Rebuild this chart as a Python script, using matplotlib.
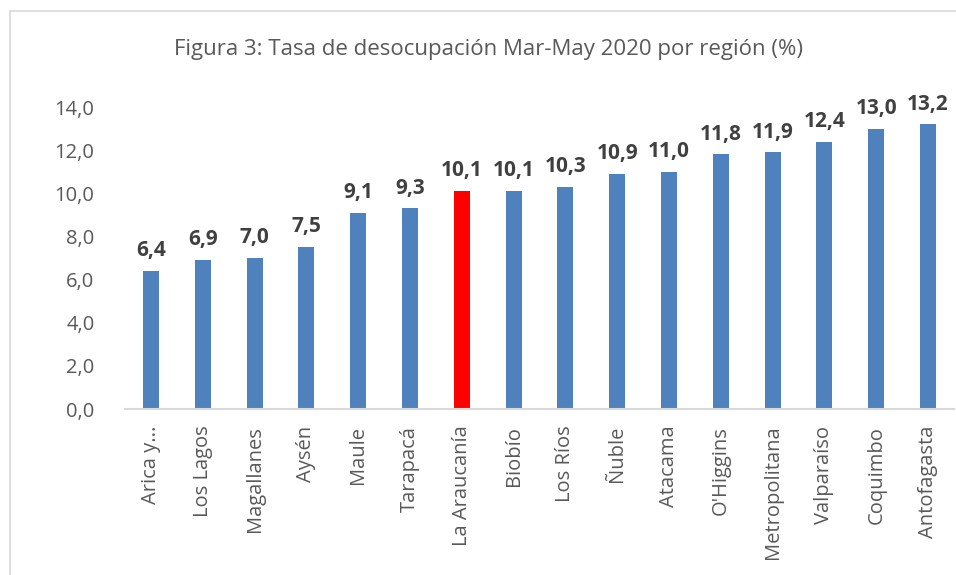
import matplotlib.pyplot as plt
from matplotlib.patches import Rectangle

regiones = ['Arica y...', 'Los Lagos', 'Magallanes', 'Aysén', 'Maule', 'Tarapacá',
            'La Araucanía', 'Biobío', 'Los Ríos', 'Ñuble', 'Atacama', "O'Higgins",
            'Metropolitana', 'Valparaíso', 'Coquimbo', 'Antofagasta']
tasas = [6.4, 6.9, 7.0, 7.5, 9.1, 9.3, 10.1, 10.1, 10.3, 10.9, 11.0, 11.8, 11.9, 12.4, 13.0, 13.2]
destacada = 'La Araucanía'

plt.rcParams['font.family'] = ['Open Sans', 'DejaVu Sans']

fig = plt.figure(figsize=(9.56, 5.75), dpi=100)
ax = fig.add_axes([125/956, 166/575, 829/956, 302/575])

colores = ['#FF0000' if r == destacada else '#4F81BD' for r in regiones]
x = range(len(regiones))
barras = ax.bar(x, tasas, width=0.31, color=colores)

for b, v in zip(barras, tasas):
    ax.annotate(f'{v:.1f}'.replace('.', ','), (b.get_x() + b.get_width()/2, v),
                xytext=(0, 7), textcoords='offset points', ha='center', va='bottom',
                fontsize=15, fontweight='bold', color='#404040', annotation_clip=False)

ax.set_xlim(-0.5, len(regiones) - 0.5)
ax.set_ylim(0, 14)
ax.set_yticks(range(0, 15, 2))
ax.set_yticklabels([f'{t},0' for t in range(0, 15, 2)])
ax.set_xticks(list(x))
ax.set_xticklabels(regiones, rotation=90)
ax.tick_params(axis='both', length=0, labelsize=14.5, colors='#595959')
ax.tick_params(axis='y', pad=22)
ax.tick_params(axis='x', pad=12)

for s in ['top', 'right', 'left']:
    ax.spines[s].set_visible(False)
ax.spines['bottom'].set_color('#D9D9D9')
ax.spines['bottom'].set_linewidth(1.5)

fig.text(489/956, 1 - 50/575, 'Figura 3: Tasa de desocupación Mar-May 2020 por región (%)',
         ha='center', va='center', fontsize=16, color='#595959')

fig.patches.append(Rectangle((10/956, -0.1), 1.0, (575 - 11)/575 + 0.1, transform=fig.transFigure,
                             fill=False, edgecolor='#D9D9D9', linewidth=1.2))

fig.savefig('out.png', dpi=100, facecolor='white')
